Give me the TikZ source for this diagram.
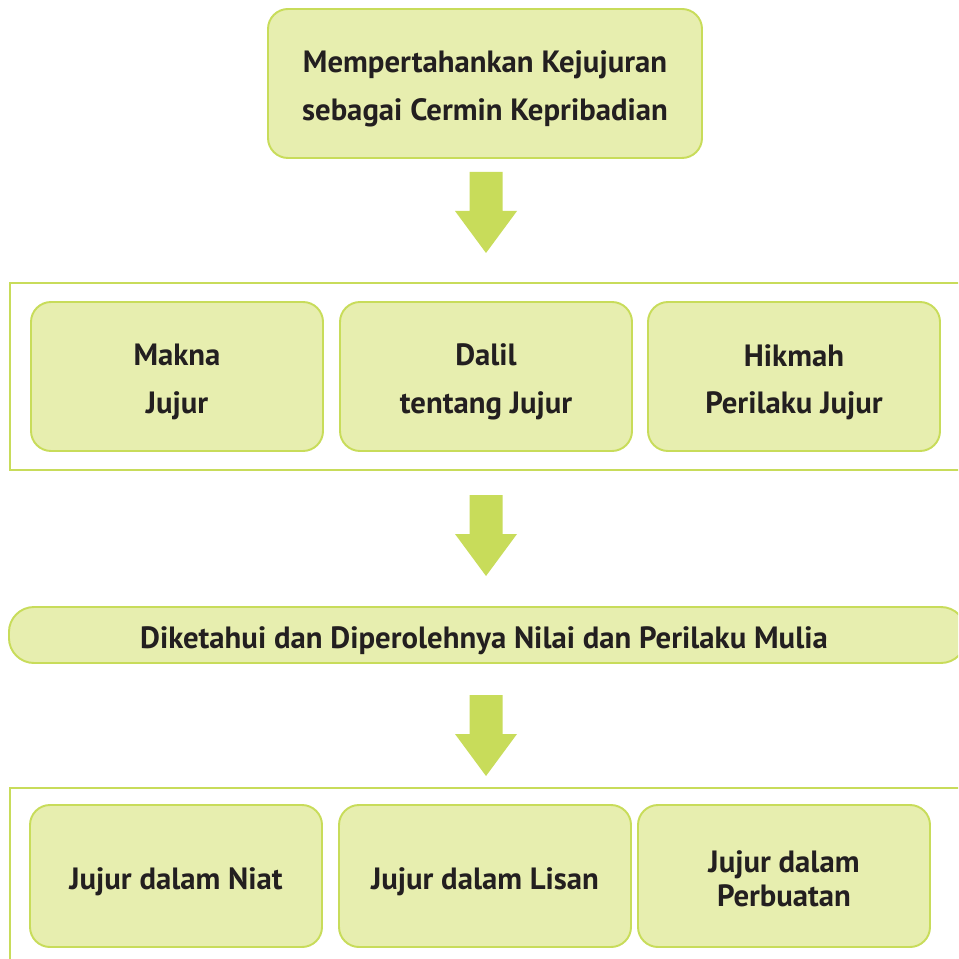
\documentclass[tikz,border=0pt]{standalone}
\usepackage{fontspec}
\setmainfont{PT Sans}
\usetikzlibrary{positioning}
\definecolor{limeline}{HTML}{C8DC5A}
\definecolor{limefill}{HTML}{E7EEAF}
\definecolor{inkdark}{HTML}{231F20}
\tikzset{
  boxtext/.style={align=center, text=inkdark, yshift=-0.11cm,
    font=\fontsize{17.5}{27}\selectfont\bfseries},
  boxshape/.style={draw=limeline, fill=limefill, line width=1.1pt, rounded corners=0.4cm,
    minimum width=5.84cm, minimum height=2.98cm},
  box/.style={boxshape, label={[boxtext]center:#1}},
  frame/.style={draw=limeline, line width=1.1pt},
  bigarrow/.pic={\fill[limeline] (-0.33,0) -- (0.33,0) -- (0.33,-0.78) -- (0.62,-0.78)
    -- (0,-1.62) -- (-0.62,-0.78) -- (-0.33,-0.78) -- cycle;}
}
\begin{document}
\begin{tikzpicture}
\clip (0,0) rectangle (19.16,-19.18);
\fill[white] (0,0) rectangle (19.16,-19.18);

% judul
\node[box={Mempertahankan Kejujuran\\sebagai Cermin Kepribadian}, minimum width=8.68cm]
  (judul) at (9.70,-1.67) {};
\coordinate (p1) at (9.72,-3.44);
\pic at (p1) {bigarrow};

% baris pertama
\draw[frame] (19.5,-5.66) -- (0.2,-5.66) -- (0.2,-9.40) -- (19.5,-9.40);
\node[box={Makna\\Jujur}] (makna) at (3.54,-7.53) {};
\node[box={Dalil\\tentang Jujur}] (dalil) at (9.72,-7.53) {};
\node[box={Hikmah\\Perilaku Jujur}] (hikmah) at (15.88,-7.53) {};
\coordinate (p2) at (9.72,-9.90);
\pic at (p2) {bigarrow};

% hasil
\node[boxshape, minimum width=19.14cm, minimum height=1.12cm, rounded corners=0.5cm,
  anchor=west] (hasil) at (0.16,-12.70) {};
\node[boxtext] (hasiltext) at (9.68,-12.70)
  {Diketahui dan Diperolehnya Nilai dan Perilaku Mulia};
\coordinate (p3) at (9.72,-13.90);
\pic at (p3) {bigarrow};

% baris kedua
\draw[frame] (19.5,-15.76) -- (0.2,-15.76) -- (0.2,-19.5);
\node[box={Jujur dalam Niat}, minimum height=2.84cm] (niat) at (3.52,-17.52) {};
\node[box={Jujur dalam Lisan}, minimum height=2.84cm] (lisan) at (9.70,-17.52) {};
\node[boxshape, minimum height=2.84cm,
  label={[boxtext, yshift=0.06cm, font=\fontsize{17.5}{19.5}\selectfont\bfseries]center:Jujur dalam\\Perbuatan}]
  (perbuatan) at (15.68,-17.52) {};
\end{tikzpicture}
\end{document}
